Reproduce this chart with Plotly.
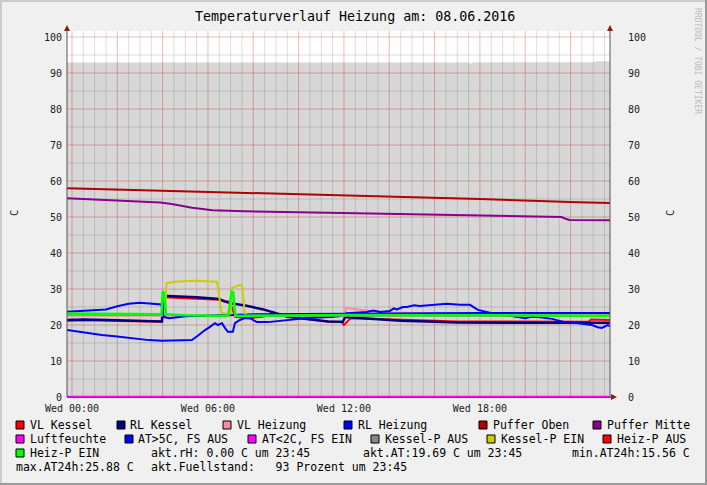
import plotly.graph_objects as go

W, H = 707, 485
L, R, T, B = 67, 610, 31, 397  # plot area in pixels

# ---------------- data (hours of 08.06.2016, values in C / %) ----------------
title_text = "Temperaturverlauf Heizung am: 08.06.2016"
x_tickvals = [0, 6, 12, 18]
x_ticktext = ["Wed 00:00", "Wed 06:00", "Wed 12:00", "Wed 18:00"]
y_tickvals = [0, 10, 20, 30, 40, 50, 60, 70, 80, 90, 100]

t_fuell = [-0.22, 5, 10, 14.5, 17.5, 17.6, 17.7, 20, 23.0, 23.2, 23.74]
fuellstand = [92.9, 92.9, 92.9, 92.9, 92.9, 92.6, 92.9, 93.0, 93.0, 93.3, 93.3]

t_vl_kessel = [-0.22, 1, 2, 3.97, 4.03, 5, 6.5, 6.95, 7.05, 7.2, 7.8, 8.4, 8.9, 9.5, 10.3, 11.3,
               11.9, 12.0, 12.3, 13, 15, 17, 20, 22.8, 22.9, 23.74]
vl_kessel = [21.2, 21.3, 21.1, 20.9, 27.7, 27.5, 27.0, 26.4, 25.0, 22.3, 21.9, 22.3, 23.2, 22.3, 21.7, 21.0,
             20.8, 20.0, 21.9, 21.8, 21.4, 21.0, 20.9, 20.9, 21.5, 21.4]

t_rl_kessel = [-0.22, 0.5, 2, 3.97, 4.03, 5.5, 6.5, 6.75, 7.04, 7.64, 8.4, 8.96, 9.53, 10.28, 11.3,
               11.95, 12.05, 13, 14.5, 16, 17, 20, 23.74]
rl_kessel = [21.4, 21.5, 21.3, 21.0, 28.1, 27.7, 27.2, 26.5, 26.0, 25.4, 24.4, 23.3, 22.3, 21.7, 21.0,
             20.9, 22.2, 21.8, 21.2, 20.9, 20.7, 20.6, 20.6]

t_vl_heizung = [-0.22, 12.0, 12.1, 13.0, 14.0, 16, 20, 23.74]
vl_heizung = [22.6, 22.6, 24.7, 24.0, 23.5, 23.2, 23.0, 23.0]

t_rl_heizung = [-0.22, 0, 1, 1.5, 2, 2.5, 3, 3.5, 3.95, 4.05, 4.3, 5, 6, 7, 8, 10, 12, 14, 16, 18, 20, 22, 23.74]
rl_heizung = [23.7, 23.8, 24.1, 24.3, 25.2, 25.9, 26.2, 26.0, 25.7, 22.2, 21.9, 22.4, 22.7, 22.8, 23.0, 23.1,
              23.2, 23.2, 23.3, 23.3, 23.3, 23.3, 23.3]

t_puffer_oben = [-0.22, 3.97, 6, 9.84, 12, 15.74, 18, 22.35, 23.74]
puffer_oben = [58.0, 57.3, 57.1, 56.4, 56.1, 55.4, 55.0, 54.1, 53.9]

t_puffer_mitte = [-0.22, 1.7, 3.9, 4.4, 5.3, 6.2, 7.6, 11.3, 15.7, 21.6, 21.75, 21.95, 23.74]
puffer_mitte = [55.2, 54.6, 54.0, 53.6, 52.6, 51.9, 51.6, 51.2, 50.7, 50.0, 49.6, 49.2, 49.1]

t_luftfeuchte = [-0.22, 23.74]
luftfeuchte = [0.0, 0.0]

t_aussen = [-0.22, 0, 0.44, 1.32, 1.99, 2.51, 3.40, 3.97, 4.85, 5.29, 5.51, 5.65, 5.87, 6.09, 6.31, 6.44,
            6.62, 6.75, 6.88, 7.10, 7.19, 7.41, 7.63, 7.85, 8.16, 8.65, 9.53, 10.28, 11.38, 11.8, 12.13,
            12.6, 13.01, 13.3, 13.59, 14.03, 14.2, 14.34, 14.6, 14.78, 15.1, 15.35, 15.93, 16.54, 17.12,
            17.56, 17.91, 18.53, 19.68, 19.99, 20.3, 20.56, 21.18, 21.75, 22.32, 22.94, 23.2, 23.38, 23.64, 23.74]
aussen = [18.6, 18.4, 17.9, 17.2, 16.8, 16.4, 15.8, 15.6, 15.6, 15.8, 16.8, 17.6, 18.6, 19.5, 20.5, 20.0,
          20.5, 19.2, 18.1, 18.1, 20.5, 21.4, 21.9, 21.9, 20.8, 20.8, 21.4, 21.9, 22.2, 22.4, 23.3,
          23.5, 23.6, 24.0, 23.6, 23.9, 24.6, 24.3, 25.0, 25.0, 25.5, 25.3, 25.6, 25.88, 25.6,
          25.6, 24.2, 23.3, 22.2, 21.9, 22.3, 22.2, 21.7, 20.8, 20.5, 20.0, 19.4, 19.2, 20.0, 19.69]

t_kp_aus = [-0.22, 4.0, None, 7.65, 23.74]
kp_aus = [22.9, 22.8, None, 22.6, 22.6]

t_kp_ein = [4.12, 4.17, 4.5, 5.4, 6.4, 6.6, 6.7, 7.0, 7.05, 7.4, 7.5, 7.63, 7.7]
kp_ein = [23.0, 31.6, 32.0, 32.3, 32.0, 23.5, 23.2, 23.2, 30.3, 31.1, 31.0, 23.3, 23.0]

t_heizp_ein = [-0.22, 2, 3.95, 4.0, 4.05, 4.15, 5, 6.9, 7.04, 7.12, 7.2, 7.3, 8, 12, 16, 20, 23.74]
heizp_ein = [23.2, 23.1, 23.0, 29.3, 29.0, 23.0, 22.7, 22.5, 29.2, 29.0, 22.8, 22.5, 22.6, 22.8, 22.7, 22.6, 22.6]

t_empty = []
v_empty = []

series_names = ["VL Kessel", "RL Kessel", "VL Heizung", "RL Heizung", "Puffer Oben", "Puffer Mitte",
                "Luftfeuchte", "AT>5C, FS AUS", "AT<2C, FS EIN", "Kessel-P AUS", "Kessel-P EIN",
                "Heiz-P AUS", "Heiz-P EIN"]
series_colors = ["#FF0000", "#000080", "#FF88AA", "#0000FF", "#B00000", "#8B008B",
                 "#FF00FF", "#0000FF", "#FF00FF", "#888888", "#CCCC00", "#FF0000", "#00FF00"]
stat_texts = ["akt.rH: 0.00 C um 23:45", "akt.AT:19.69 C um 23:45", "min.AT24h:15.56 C",
              "max.AT24h:25.88 C", "akt.Fuellstand:   93 Prozent um 23:45"]

X_RANGE = [-0.22, 23.74]
Y_RANGE = [0, 101.67]

# ---------------- helpers ----------------
def px(x):
    return (x - L) / (R - L)

def py(y):
    return (B - y) / (B - T)

MONO = "DejaVu Sans Mono"

fig = go.Figure()

fig.add_trace(go.Scatter(x=t_fuell, y=fuellstand, mode="lines", line=dict(width=0),
                         fill="tozeroy", fillcolor="rgba(0,0,0,0.155)", hoverinfo="skip"))

series_data = [
    (t_vl_kessel, vl_kessel, 2),
    (t_rl_kessel, rl_kessel, 2.5),
    (t_vl_heizung, vl_heizung, 2),
    (t_rl_heizung, rl_heizung, 2),
    (t_puffer_oben, puffer_oben, 2),
    (t_puffer_mitte, puffer_mitte, 2),
    (t_luftfeuchte, luftfeuchte, 2.5),
    (t_aussen, aussen, 2),
    (t_empty, v_empty, 2),
    (t_kp_aus, kp_aus, 2),
    (t_kp_ein, kp_ein, 2),
    (t_empty, v_empty, 2),
    (t_heizp_ein, heizp_ein, 2.5),
]
for (tx, vy, lw), name, col in zip(series_data, series_names, series_colors):
    fig.add_trace(go.Scatter(x=tx, y=vy, mode="lines", name=name,
                             line=dict(color=col, width=lw), connectgaps=False))

# invisible trace to anchor right axis
fig.add_trace(go.Scatter(x=[0], y=[0], yaxis="y2", mode="markers",
                         marker=dict(opacity=0), hoverinfo="skip"))

red_grid = "rgba(225,60,60,0.36)"
minor_grid = "rgba(0,0,0,0.13)"

fig.update_layout(
    width=W, height=H, autosize=False,
    margin=dict(l=L, r=W - R, t=T, b=H - B),
    paper_bgcolor="#F0F0F0", plot_bgcolor="#FFFFFF",
    showlegend=False,
    xaxis=dict(range=X_RANGE, tickvals=x_tickvals, ticktext=x_ticktext,
               showgrid=False, zeroline=False, ticks="", showline=False, ticklabelstandoff=4,
               tickfont=dict(family=MONO, size=10, color="#202020")),
    yaxis=dict(range=Y_RANGE, tickvals=y_tickvals, showgrid=False,
               zeroline=False, ticks="", showline=False, ticklabelstandoff=4,
               tickfont=dict(family=MONO, size=10, color="#202020")),
    yaxis2=dict(range=Y_RANGE, tickvals=y_tickvals, overlaying="y", side="right",
                showgrid=False, zeroline=False, ticks="", showline=False, ticklabelstandoff=17,
                tickfont=dict(family=MONO, size=10, color="#202020")),
)

shapes = []
# grid (rrdtool style: minor gray, major red)
for i in range(0, 48):
    xv = i * 0.5
    col = red_grid if i % 4 == 0 else minor_grid
    shapes.append(dict(type="line", xref="x", yref="paper", x0=xv, x1=xv, y0=0, y1=1,
                       line=dict(color=col, width=1), layer="below"))
for j in range(0, 21):
    yv = j * 5
    col = red_grid if j % 2 == 0 else minor_grid
    shapes.append(dict(type="line", xref="paper", yref="y", x0=0, x1=1, y0=yv, y1=yv,
                       line=dict(color=col, width=1), layer="below"))

# axis lines
axis_col = "#555555"
shapes.append(dict(type="line", xref="paper", yref="paper", x0=px(L), x1=px(L), y0=py(B), y1=py(29),
                   line=dict(color=axis_col, width=1), layer="above"))
shapes.append(dict(type="line", xref="paper", yref="paper", x0=px(R), x1=px(R), y0=py(B), y1=py(29),
                   line=dict(color=axis_col, width=1), layer="above"))
shapes.append(dict(type="line", xref="paper", yref="paper", x0=px(L), x1=px(614), y0=py(B + 0.5), y1=py(B + 0.5),
                   line=dict(color=axis_col, width=1), layer="below"))
arrow_col = "#8B1A1A"
for ax in (L, R):
    shapes.append(dict(type="path", xref="paper", yref="paper",
                       path=f"M {px(ax-3)} {py(31)} L {px(ax+3)} {py(31)} L {px(ax)} {py(25)} Z",
                       fillcolor=arrow_col, line=dict(width=0), layer="above"))
shapes.append(dict(type="path", xref="paper", yref="paper",
                   path=f"M {px(611)} {py(394)} L {px(611)} {py(400)} L {px(617)} {py(397)} Z",
                   fillcolor=arrow_col, line=dict(width=0), layer="above"))

# 3D frame
shapes.append(dict(type="rect", xref="paper", yref="paper", x0=px(0), x1=px(W), y0=py(0), y1=py(2),
                   fillcolor="#CBCBCB", line=dict(width=0)))
shapes.append(dict(type="rect", xref="paper", yref="paper", x0=px(0), x1=px(2), y0=py(0), y1=py(H),
                   fillcolor="#CBCBCB", line=dict(width=0)))
shapes.append(dict(type="rect", xref="paper", yref="paper", x0=px(0), x1=px(W), y0=py(H - 2), y1=py(H),
                   fillcolor="#9A9A9A", line=dict(width=0)))
shapes.append(dict(type="rect", xref="paper", yref="paper", x0=px(W - 2), x1=px(W), y0=py(0), y1=py(H),
                   fillcolor="#9A9A9A", line=dict(width=0)))

annotations = []
annotations.append(dict(text=title_text, xref="paper", yref="paper", x=px(354.5), y=py(17),
                        xanchor="center", yanchor="middle", showarrow=False,
                        font=dict(family=MONO, size=13.3, color="#000000")))
annotations.append(dict(text="C", xref="paper", yref="paper", x=px(14), y=py(213), textangle=-90,
                        xanchor="center", yanchor="middle", showarrow=False,
                        font=dict(family=MONO, size=10.5, color="#202020")))
annotations.append(dict(text="C", xref="paper", yref="paper", x=px(670), y=py(213), textangle=-90,
                        xanchor="center", yanchor="middle", showarrow=False,
                        font=dict(family=MONO, size=10.5, color="#202020")))
annotations.append(dict(text="RRDTOOL / TOBI OETIKER", xref="paper", yref="paper", x=px(697), y=py(61),
                        textangle=90, xanchor="center", yanchor="middle", showarrow=False,
                        font=dict(family=MONO, size=8, color="#BBBBBB")))

# legend (rrdtool style)
legend_pos = [
    (16, 30, 425), (117, 130, 425), (223, 237, 425), (344, 358, 425), (479, 493, 425), (593, 607, 425),
    (16, 30, 439), (125, 138, 439), (248, 262, 439), (371, 385, 439), (487, 501, 439), (603, 617, 439),
    (16, 30, 453),
]
LEG_FS = 11.5
for (bx, tx, yc), name, col in zip(legend_pos, series_names, series_colors):
    shapes.append(dict(type="rect", xref="paper", yref="paper", x0=px(bx), x1=px(bx + 8),
                       y0=py(yc - 4), y1=py(yc + 4), fillcolor=col,
                       line=dict(color="#000000", width=1)))
    annotations.append(dict(text=name, xref="paper", yref="paper", x=px(tx - 2), y=py(yc),
                            xanchor="left", yanchor="middle", showarrow=False,
                            font=dict(family=MONO, size=LEG_FS, color="#000000")))
stat_pos = [(151, 453), (363, 453), (572, 453), (16, 467), (151, 467)]
for (sx, sy), txt in zip(stat_pos, stat_texts):
    annotations.append(dict(text=txt.replace(" ", "&nbsp;"), xref="paper", yref="paper", x=px(sx - 2), y=py(sy),
                            xanchor="left", yanchor="middle", showarrow=False,
                            font=dict(family=MONO, size=LEG_FS, color="#000000")))

fig.update_layout(shapes=shapes, annotations=annotations)
fig.write_html("out.html", config={"displayModeBar": False},
               post_script="document.body.style.margin='0';document.body.style.padding='0';")
